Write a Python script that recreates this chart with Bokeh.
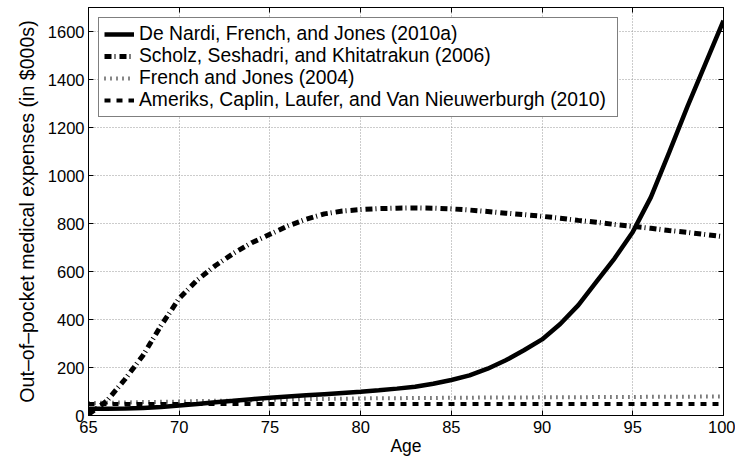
from bokeh.plotting import figure
from bokeh.models import Legend, LegendItem, LinearAxis, FixedTicker, Range1d
from bokeh.embed import file_html
from bokeh.resources import INLINE

ages = list(range(65, 101))
de_nardi = [28, 28, 29, 31, 35, 42, 48, 55, 61, 68, 74, 79, 84, 89, 94, 99, 105, 112, 120, 132,
            148, 167, 195, 230, 272, 317, 381, 460, 558, 655, 765, 910, 1095, 1285, 1465, 1645]
scholz = [5, 60, 150, 250, 375, 488, 565, 625, 676, 720, 755, 790, 818, 840, 852, 858, 862, 864, 865, 864,
          861, 856, 850, 843, 837, 830, 822, 813, 805, 796, 788, 780, 771, 763, 754, 745]
french_jones = [52, 53, 54, 56, 57, 58, 60, 61, 62, 64, 65, 66, 68, 69, 70, 71, 72, 72, 73, 73,
                74, 74, 75, 75, 75, 76, 76, 76, 77, 77, 77, 78, 78, 78, 79, 79]
ameriks = [48] * 36

labels = ["De Nardi, French, and Jones (2010a)",
          "Scholz, Seshadri, and Khitatrakun (2006)",
          "French and Jones (2004)",
          "Ameriks, Caplin, Laufer, and Van Nieuwerburgh (2010)"]
x_ticks = [65, 70, 75, 80, 85, 90, 95, 100]
y_ticks = [0, 200, 400, 600, 800, 1000, 1200, 1400, 1600]

FONT = "Liberation Sans"

p = figure(width=735, height=460, output_backend="svg", toolbar_location=None,
           x_range=Range1d(65, 100), y_range=Range1d(0, 1700),
           min_border_left=88, min_border_right=12, min_border_top=7, min_border_bottom=45,
           background_fill_color="white", border_fill_color="white")
p.outline_line_color = "black"
p.outline_line_width = 1

for ax in (p.xaxis[0], p.yaxis[0]):
    ax.major_tick_in = 5
    ax.major_tick_out = 0
    ax.minor_tick_line_color = None
    ax.axis_line_color = "black"
    ax.major_label_text_font = FONT
    ax.major_label_text_font_size = "16.5px"
    ax.major_label_text_color = "black"
    ax.axis_label_text_font = FONT
    ax.axis_label_text_font_style = "normal"
    ax.axis_label_text_color = "black"

p.xaxis[0].ticker = FixedTicker(ticks=x_ticks)
p.yaxis[0].ticker = FixedTicker(ticks=y_ticks)
p.xaxis[0].axis_label = "Age"
p.xaxis[0].axis_label_text_font_size = "17.5px"
p.xaxis[0].major_label_standoff = 5
p.xaxis[0].axis_label_standoff = 0
p.yaxis[0].axis_label = "Out\u2013of\u2013pocket medical expenses (in $000s)"
p.yaxis[0].axis_label_text_font_size = "19.6px"
p.yaxis[0].major_label_standoff = 4
p.yaxis[0].axis_label_standoff = 7

top = LinearAxis(ticker=FixedTicker(ticks=x_ticks), major_tick_in=5, major_tick_out=0,
                 minor_tick_line_color=None, major_label_text_font_size="0px",
                 major_label_text_color=None, major_label_standoff=0, axis_line_color="black")
right = LinearAxis(ticker=FixedTicker(ticks=y_ticks), major_tick_in=5, major_tick_out=0,
                   minor_tick_line_color=None, major_label_text_font_size="0px",
                   major_label_text_color=None, major_label_standoff=0, axis_line_color="black")
p.add_layout(top, "above")
p.add_layout(right, "right")

p.xgrid.ticker = FixedTicker(ticks=x_ticks)
p.ygrid.ticker = FixedTicker(ticks=y_ticks)
for g in (p.xgrid, p.ygrid):
    g.grid_line_color = "#999999"
    g.grid_line_dash = "1 2"
    g.grid_line_width = 1

r_fj = p.line(ages, french_jones, line_color="#111111", line_width=4, line_dash="1 5")
r_am = p.line(ages, ameriks, line_color="black", line_width=4, line_dash="6 6")
r_sc = p.line(ages, scholz, line_color="black", line_width=5, line_dash="7 3 1 4")
r_dn = p.line(ages, de_nardi, line_color="black", line_width=4.5)

legend = Legend(items=[LegendItem(label=labels[0], renderers=[r_dn]),
                       LegendItem(label=labels[1], renderers=[r_sc]),
                       LegendItem(label=labels[2], renderers=[r_fj]),
                       LegendItem(label=labels[3], renderers=[r_am])],
                location="top_left", margin=10, padding=5, spacing=0,
                label_height=20, glyph_height=20, glyph_width=30, label_standoff=5,
                label_width=473,
                label_text_font=FONT, label_text_font_size="19.3px", label_text_color="black",
                border_line_color="black", border_line_width=1,
                background_fill_color="white", background_fill_alpha=1.0)
p.add_layout(legend, "center")

open("out.html", "w").write(file_html(p, INLINE))
